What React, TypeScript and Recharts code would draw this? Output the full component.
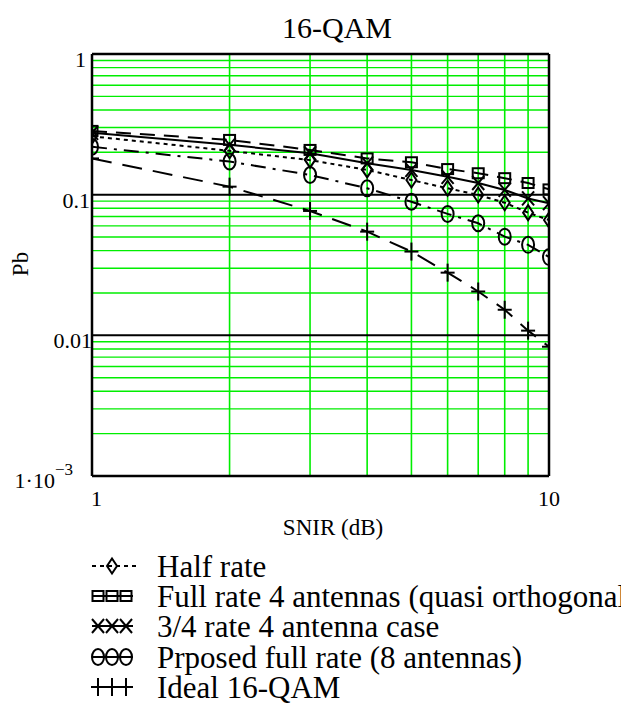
import React from 'react';
import { LineChart, Line, XAxis, YAxis, ReferenceLine } from 'recharts';

// ---- data ----
const SNIR = [1, 2, 3, 4, 5, 6, 7, 8, 9, 10];
const HALF_RATE = [0.26, 0.205, 0.176, 0.15, 0.127, 0.111, 0.0995, 0.0877, 0.0745, 0.066];
const FULL_RATE_4 = [0.284, 0.245, 0.208, 0.181, 0.17, 0.152, 0.142, 0.131, 0.121, 0.109];
const THREE_QUARTER = [0.275, 0.226, 0.197, 0.167, 0.15, 0.134, 0.121, 0.108, 0.094, 0.087];
const PROPOSED = [0.219, 0.172, 0.138, 0.111, 0.089, 0.073, 0.0626, 0.0503, 0.044, 0.036];
const IDEAL = [0.181, 0.114, 0.0766, 0.0546, 0.0394, 0.0279, 0.0205, 0.0152, 0.0108, 0.0083];

const X_TICKS = [1, 10];
const Y_TICKS = [0.001, 0.01, 0.1, 1];
const GRID_X = [2, 3, 4, 5, 6, 7, 8, 9];
const GRID_MANTISSA = [2, 3, 4, 5, 6, 7, 8, 9];
const DECADES = [0.001, 0.01, 0.1];
const MAJOR_Y = [0.01, 0.1];

const TITLE = '16-QAM';
const X_LABEL = 'SNIR (dB)';
const Y_LABEL = 'Pb';

type MarkerKind = 'diamond' | 'square' | 'cross' | 'circle' | 'plus';

const SERIES: { key: string; name: string; values: number[]; dash?: string; marker: MarkerKind; legendMarkers: number }[] = [
  { key: 'half', name: 'Half rate', values: HALF_RATE, dash: '4 4', marker: 'diamond', legendMarkers: 1 },
  { key: 'full4', name: 'Full rate 4 antennas (quasi orthogonal)', values: FULL_RATE_4, dash: '15 9', marker: 'square', legendMarkers: 3 },
  { key: 'threeq', name: '3/4 rate 4 antenna case', values: THREE_QUARTER, marker: 'cross', legendMarkers: 3 },
  { key: 'prop', name: 'Prposed full rate (8 antennas)', values: PROPOSED, dash: '15 7 3 7', marker: 'circle', legendMarkers: 3 },
  { key: 'ideal', name: 'Ideal 16-QAM', values: IDEAL, dash: '20 11', marker: 'plus', legendMarkers: 3 },
];

const rows = SNIR.map((x, i) => {
  const r: Record<string, number> = { x };
  SERIES.forEach((s) => {
    r[s.key] = s.values[i];
  });
  return r;
});

const gridY: number[] = [];
DECADES.forEach((d) => GRID_MANTISSA.forEach((m) => gridY.push(d * m)));

const FONT = '"Liberation Serif", "Times New Roman", serif';
const GREEN = '#00ee00';

function Marker({ kind, cx, cy }: { kind: MarkerKind; cx: number; cy: number }) {
  const p = { stroke: '#000', strokeWidth: 2, fill: 'none' };
  if (cx == null || cy == null || isNaN(cx) || isNaN(cy)) return <g />;
  switch (kind) {
    case 'diamond':
      return <polygon {...p} points={`${cx},${cy - 7.5} ${cx + 5},${cy} ${cx},${cy + 7.5} ${cx - 5},${cy}`} />;
    case 'square':
      return <rect {...p} x={cx - 5.5} y={cy - 5} width={11} height={10} />;
    case 'cross':
      return (
        <g {...p}>
          <line x1={cx - 6} y1={cy - 7} x2={cx + 6} y2={cy + 7} />
          <line x1={cx - 6} y1={cy + 7} x2={cx + 6} y2={cy - 7} />
        </g>
      );
    case 'circle':
      return <ellipse {...p} cx={cx} cy={cy} rx={6} ry={8} />;
    case 'plus':
    default:
      return (
        <g {...p}>
          <line x1={cx - 7} y1={cy} x2={cx + 7} y2={cy} />
          <line x1={cx} y1={cy - 9} x2={cx} y2={cy + 9} />
        </g>
      );
  }
}

const YTick = (props: any) => {
  const { y, payload } = props;
  const v = payload.value;
  if (v === 0.001) {
    return (
      <text x={73} y={y + 12} textAnchor="end" fontFamily={FONT} fontSize={22} fill="#000">
        <tspan>1·10</tspan>
        <tspan dy={-13} fontSize={17}>−3</tspan>
      </text>
    );
  }
  const label = v === 1 ? '1' : v === 0.1 ? '0.1' : '0.01';
  const endX = v === 1 ? 86 : v === 0.1 ? 90 : 92;
  return (
    <text x={endX} y={y + 13} textAnchor="end" fontFamily={FONT} fontSize={22} fill="#000">
      {label}
    </text>
  );
};

const XTick = (props: any) => {
  const { x, payload } = props;
  const v = payload.value;
  return (
    <text x={v === 1 ? x - 1 : x} y={506} textAnchor={v === 1 ? 'start' : 'middle'} fontFamily={FONT} fontSize={22} fill="#000">
      {String(v)}
    </text>
  );
};

const LEGEND_BASE = [577, 607, 637, 668, 698];

export default function App() {
  return (
    <div style={{ position: 'absolute', left: 0, top: 0, width: 621, height: 724, overflow: 'hidden', background: '#fff' }}>
      <LineChart width={621} height={724} data={rows} margin={{ top: 54, right: 72, bottom: 188, left: 12 }}>
        <XAxis
          dataKey="x"
          type="number"
          scale="log"
          domain={[1, 10]}
          ticks={X_TICKS}
          allowDataOverflow
          axisLine={false}
          tickLine={false}
          height={60}
          tick={<XTick />}
        />
        <YAxis
          type="number"
          scale="log"
          domain={[0.001, 1]}
          ticks={Y_TICKS}
          allowDataOverflow
          axisLine={false}
          tickLine={false}
          width={80}
          tick={<YTick />}
        />
        {GRID_X.map((v) => (
          <ReferenceLine key={'gx' + v} x={v} stroke={GREEN} strokeWidth={1.6} />
        ))}
        {gridY.map((v) => (
          <ReferenceLine key={'gy' + v} y={v} stroke={GREEN} strokeWidth={1.4} />
        ))}
        {MAJOR_Y.map((v) => (
          <ReferenceLine key={'my' + v} y={v} stroke="#000" strokeWidth={2} />
        ))}
        <ReferenceLine y={1} stroke="#000" strokeWidth={2.5} />
        <ReferenceLine y={0.001} stroke="#000" strokeWidth={2.5} />
        <ReferenceLine x={1} stroke="#000" strokeWidth={2.5} />
        <ReferenceLine x={10} stroke="#000" strokeWidth={2.5} />
        {SERIES.map((s) => (
          <Line
            key={s.key}
            dataKey={s.key}
            type="linear"
            stroke="#000"
            strokeWidth={2}
            strokeDasharray={s.dash}
            isAnimationActive={false}
            activeDot={false}
            dot={(p: any) => <Marker key={`${s.key}-${p.index}`} kind={s.marker} cx={p.cx} cy={p.cy} />}
          />
        ))}
      </LineChart>
      <svg width={621} height={724} style={{ position: 'absolute', left: 0, top: 0, pointerEvents: 'none' }}>
        <text x={337} y={38} textAnchor="middle" fontFamily={FONT} fontSize={30} fill="#000">
          {TITLE}
        </text>
        <text x={333} y={535} textAnchor="middle" fontFamily={FONT} fontSize={23} fill="#000">
          {X_LABEL}
        </text>
        <text
          x={28}
          y={264}
          textAnchor="middle"
          fontFamily={FONT}
          fontSize={23}
          fill="#000"
          transform="rotate(-90 28 264)"
        >
          {Y_LABEL}
        </text>
        {SERIES.map((s, i) => {
          const base = LEGEND_BASE[i];
          const cy = base - 11;
          const xs = s.legendMarkers === 1 ? [112] : [98, 112, 126];
          return (
            <g key={'lg' + s.key}>
              <line
                x1={92}
                y1={cy}
                x2={s.legendMarkers === 1 ? 139 : 133}
                y2={cy}
                stroke="#000"
                strokeWidth={2}
                strokeDasharray={s.legendMarkers === 1 ? '4 4' : undefined}
              />
              {xs.map((mx) => (
                <Marker key={mx} kind={s.marker} cx={mx} cy={cy} />
              ))}
              <text x={157} y={base} fontFamily={FONT} fontSize={31} fill="#000">
                {s.name}
              </text>
            </g>
          );
        })}
      </svg>
    </div>
  );
}
